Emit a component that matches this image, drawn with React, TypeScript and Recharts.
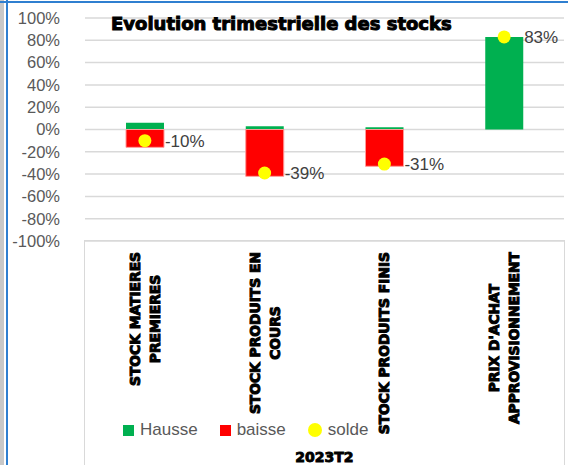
import { useEffect } from "react";
import {
  ComposedChart,
  Bar,
  Line,
  XAxis,
  YAxis,
  CartesianGrid,
  LabelList,
} from "recharts";

const CATEGORIES = [
  "STOCK MATIERES\nPREMIERES",
  "STOCK PRODUITS EN\nCOURS",
  "STOCK PRODUITS FINIS",
  "PRIX D'ACHAT\nAPPROVISIONNEMENT",
];
const HAUSSE = [6, 3, 2, 83];
const BAISSE = [-16, -42, -33, 0];
const SOLDE = [-10, -39, -31, 83];
const Y_TICKS = [-100, -80, -60, -40, -20, 0, 20, 40, 60, 80, 100];

const GREEN = "#00B050";
const RED = "#FF0000";
const YELLOW = "#FFFF00";

const LEGEND = [
  { name: "Hausse", color: GREEN, shape: "square" },
  { name: "baisse", color: RED, shape: "square" },
  { name: "solde", color: YELLOW, shape: "circle" },
];

const data = CATEGORIES.map((name, i) => ({
  name,
  hausse: HAUSSE[i],
  baisse: BAISSE[i],
  solde: SOLDE[i],
}));

const HEAVY = "'DejaVu Sans', sans-serif";
const LABEL_SIZE = 13.8;
const LABEL_FONT = `bold ${LABEL_SIZE}px ${HEAVY}`;

let ctx: CanvasRenderingContext2D | null = null;
function measure(text: string) {
  if (!ctx) ctx = document.createElement("canvas").getContext("2d");
  if (!ctx) return text.length * 9.5;
  ctx.font = LABEL_FONT;
  return ctx.measureText(text).width;
}

function CategoryTick(props: any) {
  const { x, y, payload } = props;
  const lines: string[] = String(payload.value).split("\n");
  const longest = Math.max(...lines.map(measure));
  const cy = y + longest / 2;
  return (
    <g>
      {lines.map((line, i) => {
        const lx = x + (i - (lines.length - 1) / 2) * 20;
        return (
          <text
            key={i}
            x={lx}
            y={cy}
            transform={`rotate(-90 ${lx} ${cy})`}
            textAnchor="middle"
            dominantBaseline="central"
            fontFamily={HEAVY}
            fontWeight="bold"
            fontSize={LABEL_SIZE}
            fill="#000"
            stroke="#000"
            strokeWidth={1}
          >
            {line}
          </text>
        );
      })}
    </g>
  );
}

export default function App() {
  useEffect(() => {
    document.body.style.margin = "0";
  }, []);

  return (
    <div style={{ position: "relative", width: 568, height: 465, background: "#fff", overflow: "hidden" }}>
      <ComposedChart
        width={568}
        height={465}
        data={data}
        stackOffset="sign"
        margin={{ top: 18, right: 4, bottom: 0, left: 0 }}
      >
        <CartesianGrid vertical={false} stroke="#d9d9d9" strokeWidth={1.5} />
        <XAxis
          dataKey="name"
          height={224}
          interval={0}
          tickLine={false}
          axisLine={false}
          tickSize={0}
          tickMargin={11}
          tick={<CategoryTick />}
          label={{
            value: "2023T2",
            position: "insideBottom",
            offset: 3,
            style: { fontFamily: HEAVY, fontWeight: "bold", fontSize: 14, fill: "#000", stroke: "#000", strokeWidth: 0.9 },
          }}
        />
        <YAxis
          type="number"
          domain={[-100, 100]}
          ticks={Y_TICKS}
          interval={0}
          width={85}
          axisLine={false}
          tickLine={false}
          tickSize={0}
          tickMargin={25}
          tickFormatter={(v: number) => `${v}%`}
          tick={{ fill: "#595959", fontSize: 16.5, fontFamily: "'Liberation Sans', Arial, sans-serif" }}
        />
        <Bar dataKey="hausse" stackId="a" fill={GREEN} barSize={38} isAnimationActive={false} />
        <Bar dataKey="baisse" stackId="a" fill={RED} stroke="#ff9a9a" strokeWidth={1} barSize={38} isAnimationActive={false} />
        <Line
          dataKey="solde"
          stroke="none"
          isAnimationActive={false}
          dot={{ r: 6.5, fill: YELLOW, stroke: "none" }}
          activeDot={false}
        >
          <LabelList
            dataKey="solde"
            position="right"
            offset={20}
            formatter={(v: any) => `${v}%`}
            style={{ fill: "#404040", fontSize: 17, fontFamily: "'Liberation Sans', Arial, sans-serif" }}
          />
        </Line>
      </ComposedChart>

      {/* frame */}
      <div style={{ position: "absolute", left: 0, top: 0, width: 4, height: 465, background: "#c8c8c8" }} />
      <div style={{ position: "absolute", left: 6, top: 0, width: 2, height: 465, background: "#2f7fd0" }} />
      <div style={{ position: "absolute", left: 0, top: 1, width: 568, height: 2, background: "#2f7fd0" }} />
      <div
        style={{
          position: "absolute",
          left: 84,
          top: 240,
          width: 479,
          height: 240,
          border: "1.5px solid #d9d9d9",
          borderBottom: "none",
        }}
      />

      <div
        style={{
          position: "absolute",
          left: 111,
          top: 13,
          fontFamily: HEAVY,
          fontWeight: "bold",
          fontSize: 18,
          color: "#000",
          WebkitTextStroke: "1px #000",
          whiteSpace: "nowrap",
        }}
      >
        Evolution trimestrielle des stocks
      </div>

      <div
        style={{
          position: "absolute",
          left: 123,
          top: 420,
          display: "flex",
          alignItems: "center",
          fontFamily: "'Liberation Sans', Arial, sans-serif",
          fontSize: 17,
          color: "#595959",
        }}
      >
        {LEGEND.map((item) => (
          <div key={item.name} style={{ display: "flex", alignItems: "center", marginRight: 22 }}>
            <span
              style={{
                display: "inline-block",
                width: item.shape === "circle" ? 14 : 11,
                height: item.shape === "circle" ? 14 : 11,
                borderRadius: item.shape === "circle" ? "50%" : 0,
                background: item.color,
                marginRight: 6,
              }}
            />
            {item.name}
          </div>
        ))}
      </div>
    </div>
  );
}
